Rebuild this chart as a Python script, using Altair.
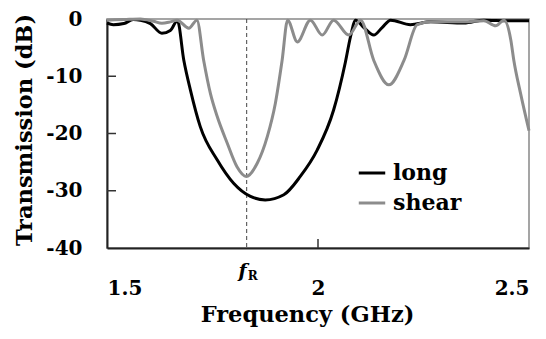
import altair as alt
import pandas as pd

# ---- data ----
freq_long = [1.500, 1.515, 1.540, 1.562, 1.579, 1.603, 1.630, 1.650, 1.667, 1.682,
             1.698, 1.721, 1.761, 1.800, 1.840, 1.875, 1.919, 1.958, 1.998, 2.037,
             2.065, 2.077, 2.089, 2.110, 2.132, 2.152, 2.172, 2.219, 2.267, 2.346,
             2.393, 2.450, 2.500]
db_long = [-0.7, -1.0, -0.8, -0.1, -0.2, -0.8, -2.5, -2.0, -0.3, -7.2,
           -12.5, -18.8, -24.6, -28.7, -31.0, -31.6, -30.7, -27.5, -22.9, -15.9,
           -7.5, -3.1, -0.2, -1.6, -2.8, -1.5, -0.2, -1.0, -0.5, -0.7,
           -0.2, -0.3, -0.3]

freq_shear = [1.500, 1.540, 1.579, 1.610, 1.630, 1.650, 1.666, 1.694, 1.713, 1.729,
              1.745, 1.761, 1.785, 1.808, 1.830, 1.856, 1.880, 1.899, 1.915, 1.928,
              1.951, 1.982, 2.010, 2.037, 2.073, 2.101, 2.132, 2.168, 2.204, 2.235,
              2.267, 2.346, 2.393, 2.421, 2.441, 2.457, 2.464, 2.480, 2.500]
db_shear = [-0.2, -0.1, 0.0, -0.4, -0.75, -0.5, -0.2, -1.6, -0.2, -7.2,
            -13.0, -17.0, -21.7, -25.8, -27.5, -25.2, -20.5, -14.7, -7.2, -0.2,
            -4.0, -0.2, -2.8, -0.2, -2.8, -0.2, -7.2, -11.5, -7.2, -1.0,
            -0.5, -0.5, -0.3, -1.2, -0.2, -3.7, -7.2, -13.0, -19.5]

series_names = ["long", "shear"]
series_colors = ["#000000", "#8c8c8c"]
x_ticks = [1.5, 2, 2.5]
y_ticks = [0, -10, -20, -30, -40]
inner_y_ticks = [-10, -20, -30]
inner_x_ticks = [2]
f_r = [1.831]

FONT = "DejaVu Serif"
W, H = 422, 229

df = pd.concat([
    pd.DataFrame({"freq": freq_long, "db": db_long, "series": "long"}),
    pd.DataFrame({"freq": freq_shear, "db": db_shear, "series": "shear"}),
])

xscale = alt.Scale(domain=[1.5, 2.5], nice=False, zero=False)
yscale = alt.Scale(domain=[-40, 0], nice=False, zero=False)

axis_style = dict(
    labelFont=FONT, labelFontSize=20, labelFontWeight="bold", labelColor="black",
    titleFont=FONT, titleFontSize=22.5, titleFontWeight="bold", titleColor="black",
    domainColor="#222222", domainWidth=2, ticks=False, grid=False,
)

lines = alt.Chart(df).mark_line(strokeWidth=3, interpolate="monotone").encode(
    x=alt.X("freq:Q", scale=xscale,
            axis=alt.Axis(values=x_ticks, labelExpr="datum.value",
                          labelPadding=30, title="Frequency (GHz)",
                          titleX=200, titleY=55, titleAnchor="start",
                          titleAlign="center", titleBaseline="top", **axis_style)),
    y=alt.Y("db:Q", scale=yscale,
            axis=alt.Axis(values=y_ticks, labelExpr="datum.value",
                          labelPadding=25, title="Transmission (dB)",
                          titleX=-83, titleY=H / 2 - 4, titleAngle=-90,
                          titleAlign="center", titleBaseline="middle", **axis_style)),
    color=alt.Color("series:N",
                    scale=alt.Scale(domain=series_names, range=series_colors),
                    legend=alt.Legend(title=None, orient="none", legendX=250, legendY=139,
                                      symbolType="stroke", symbolStrokeWidth=3,
                                      symbolSize=700, labelFont=FONT, labelFontSize=22,
                                      labelFontWeight="bold", labelColor="black",
                                      rowPadding=4, labelOffset=6)),
    order=alt.Order("freq:Q"),
)

fr_df = pd.DataFrame({"fr": f_r})
fr_line = alt.Chart(fr_df).mark_rule(strokeDash=[4, 3], strokeWidth=1, color="#444444").encode(
    x=alt.X("fr:Q", scale=xscale),
)

f_text = alt.Chart(fr_df).mark_text(text="f", font=FONT, fontSize=19, fontWeight="bold",
                                    fontStyle="italic", color="black", align="center",
                                    baseline="alphabetic", dx=-4, dy=29).encode(
    x=alt.X("fr:Q", scale=xscale), y=alt.value(H))
r_text = alt.Chart(fr_df).mark_text(text="R", font=FONT, fontSize=12, fontWeight="bold",
                                    color="black", align="center",
                                    baseline="alphabetic", dx=6, dy=32).encode(
    x=alt.X("fr:Q", scale=xscale), y=alt.value(H))

ytick_df = pd.DataFrame({"v": inner_y_ticks})
ytick_marks = alt.Chart(ytick_df).mark_rule(color="#333333", strokeWidth=1.5).encode(
    y=alt.Y("v:Q", scale=yscale), x=alt.value(0), x2=alt.value(9))

xtick_df = pd.DataFrame({"v": inner_x_ticks})
xtick_marks = alt.Chart(xtick_df).mark_rule(color="#333333", strokeWidth=1.5).encode(
    x=alt.X("v:Q", scale=xscale), y=alt.value(H), y2=alt.value(H - 9))

chart = alt.layer(fr_line, ytick_marks, xtick_marks, lines, f_text, r_text).properties(
    width=W, height=H,
    padding={"left": 107, "top": 19, "right": 17, "bottom": 91},
    autosize="none",
).configure_view(
    stroke="#888888", strokeWidth=1.5
)

chart.save("out.html", embed_options={"renderer": "svg", "actions": False})
